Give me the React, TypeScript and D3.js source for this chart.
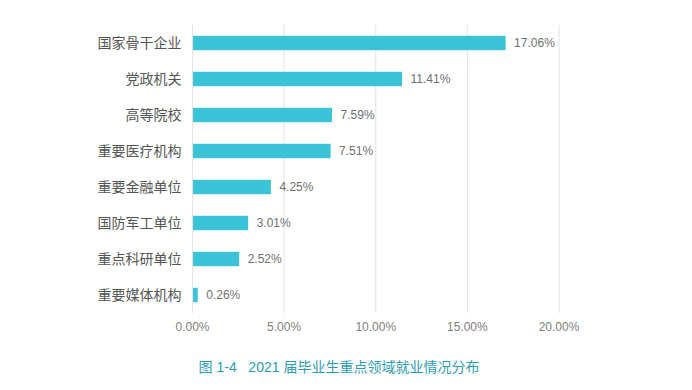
import React from 'react';
import * as d3 from 'd3';

const svgWidth = 692;
const svgHeight = 390;
const margin = { left: 192.5, right: 133, top: 25, bottom: 77 };

const width = svgWidth - margin.left - margin.right;
const height = svgHeight - margin.top - margin.bottom;

const categories = ['国家骨干企业', '党政机关', '高等院校', '重要医疗机构', '重要金融单位', '国防军工单位', '重点科研单位', '重要媒体机构'];
const shares = [17.06, 11.41, 7.59, 7.51, 4.25, 3.01, 2.52, 0.26];
const ticks = [0, 5, 10, 15, 20];
const title = '图 1-4   2021 届毕业生重点领域就业情况分布';

const font = '"Liberation Sans", "Noto Sans CJK SC", sans-serif';

const xScale = d3.scaleLinear().domain([0, 20]).range([0, width]);
const yScale = d3.scaleBand().domain(categories).range([0, height]).paddingInner(0.6).paddingOuter(0.3);

const translate = (x: number, y: number) => 'translate(' + x + ',' + y + ')';

export default function App() {
    return (
        <svg width={svgWidth} height={svgHeight}
            style={{ position: 'absolute', left: 0, top: 0, background: '#fff' }}>
            <g transform={translate(margin.left, margin.top)}>
                {/* grid */}
                {ticks.map(t => (
                    <g key={t}>
                        <line x1={xScale(t)} x2={xScale(t)} y1={0} y2={height}
                            stroke="#e3e3e3" strokeWidth={1} />
                        <text x={xScale(t)} y={height + 18} textAnchor="middle"
                            fontFamily={font} fontSize={12} fill="#808080">
                            {t.toFixed(2) + '%'}
                        </text>
                    </g>
                ))}
                {/* bars */}
                {categories.map((c, i) => {
                    const y = yScale(c) as number;
                    const bw = yScale.bandwidth();
                    return (
                        <g key={c}>
                            <rect x={xScale(0) + 0.5} y={y} width={xScale(shares[i])} height={bw} fill="#3bc4d8" />
                            <text x={-11} y={y + bw / 2} dy="0.35em" textAnchor="end"
                                fontFamily={font} fontSize={14} fill="#555">{c}</text>
                            <text x={xScale(shares[i]) + 9} y={y + bw / 2} dy="0.35em"
                                fontFamily={font} fontSize={12} fill="#707070">
                                {shares[i].toFixed(2) + '%'}
                            </text>
                        </g>
                    );
                })}
            </g>
            <text x={339} y={372} textAnchor="middle" fontFamily={font} fontSize={14} fill="#2d9cb3"
                style={{ whiteSpace: 'pre' }}>
                {title}
            </text>
        </svg>
    );
}
